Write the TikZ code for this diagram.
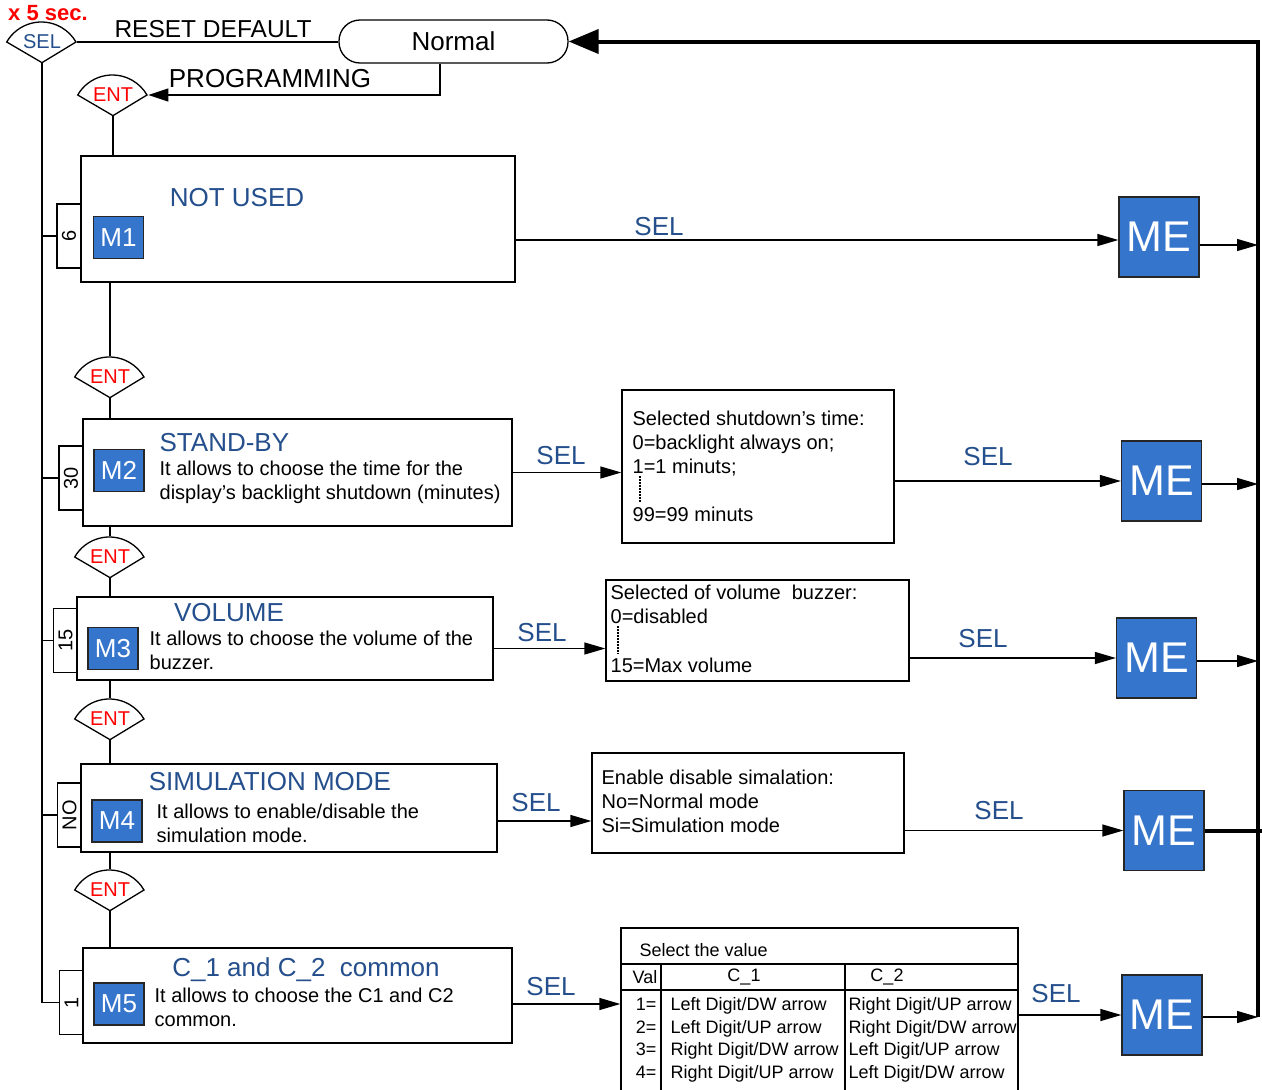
\documentclass[tikz,border=0pt]{standalone}
\usepackage{fontspec}
\setmainfont{Liberation Sans}
\usepackage{xcolor}
\usetikzlibrary{arrows.meta}

\definecolor{mblue}{RGB}{54,117,204}
\definecolor{tblue}{RGB}{36,79,140}

\begin{document}
\begin{tikzpicture}[
    x=1pt, y=-1pt,
    line width=1.3pt,
    menubox/.style={draw, inner sep=0pt},
    infobox/.style={draw, inner sep=0pt},
    mkey/.style={draw=black!85, fill=mblue, text=white, minimum width=50, minimum height=42, inner sep=0pt, font=\fontsize{26}{30}\selectfont},
    mexit/.style={draw=black!85, fill=mblue, text=white, minimum size=80, inner sep=0pt, font=\fontsize{43}{50}\selectfont},
    numbox/.style={draw, rotate=90, minimum width=64, minimum height=24, inner sep=0pt, font=\fontsize{20}{24}\selectfont},
    key/.style={minimum width=69.3, minimum height=40, inner sep=0pt, font=\fontsize{20}{24}\selectfont},
    ttl/.style={inner sep=0pt, text=tblue, text height=18.6pt, text depth=0pt, font=\fontsize{26}{30}\selectfont},
    txt/.style={inner sep=0pt, align=left, font=\fontsize{20}{24}\selectfont},
    cell/.style={inner sep=0pt, text height=12.9pt, text depth=0pt, font=\fontsize{18}{22}\selectfont},
    dots/.style={line width=1.2pt, dash pattern=on 1.5pt off 1.5pt},
    arrow/.style={-{Triangle[length=21pt,width=12pt]}},
    bus/.style={line width=4pt}
]
\useasboundingbox (0,0) rectangle (1262,1090);
\fill[white] (0,0) rectangle (1262,1090);

% Start: normal mode and the keys
\node[inner sep=0pt, text=red, text height=15.7pt, text depth=0pt, font=\bfseries\fontsize{22}{26}\selectfont] (hold) at (48,13) {x 5 sec.};
\node[key, text=tblue] (sel) at (42,42) {SEL};
\node[draw, rounded corners=21pt, minimum width=229, minimum height=43, inner sep=0pt, font=\fontsize{26}{30}\selectfont] (normal) at (453.5,41.5) {Normal};
\node[inner sep=0pt, text height=17.5pt, text depth=0pt, font=\fontsize{24.5}{29}\selectfont] (reset) at (213,29) {RESET DEFAULT};
\node[inner sep=0pt, text height=18.6pt, text depth=0pt, font=\fontsize{26}{30}\selectfont] (prog) at (270,78) {PROGRAMMING};
\node[key, text=red] (ent0) at (113,95) {ENT};
\node[key, text=red] (ent1) at (110,377) {ENT};
\node[key, text=red] (ent2) at (110,557) {ENT};
\node[key, text=red] (ent3) at (110,719) {ENT};
\node[key, text=red] (ent4) at (110,890) {ENT};

% Menu boxes
\node[menubox, minimum width=434, minimum height=126] (m1box) at (298,219) {};
\node[menubox, minimum width=429, minimum height=107] (m2box) at (297.5,472.5) {};
\node[menubox, minimum width=416, minimum height=83] (m3box) at (285,638.5) {};
\node[menubox, minimum width=416, minimum height=88] (m4box) at (289,808) {};
\node[menubox, minimum width=429, minimum height=95] (m5box) at (297.5,995.5) {};

\node[mkey] (m1) at (118.5,237.5) {M1};
\node[mkey] (m2) at (119,470.5) {M2};
\node[mkey] (m3) at (113,648.5) {M3};
\node[mkey] (m4) at (117,821) {M4};
\node[mkey] (m5) at (119,1004) {M5};

\node[numbox] (n1) at (69,236) {6};
\node[numbox] (n2) at (71,478) {30};
\node[numbox] (n3) at (65.5,640.5) {15};
\node[numbox] (n4) at (69.5,815) {NO};
\node[numbox] (n5) at (71.5,1002.5) {1};

\node[ttl] (t1) at (237,197) {NOT USED};
\node[ttl, anchor=west] (t2) at (159,442) {STAND-BY};
\node[txt, anchor=north west] (d2) at (159,460.5) {It allows to choose the time for the\\display’s backlight shutdown (minutes)};
\node[ttl] (t3) at (229,612) {VOLUME};
\node[txt, anchor=north west] (d3) at (149,630.5) {It allows to choose the volume of the\\buzzer.};
\node[ttl] (t4) at (270,781) {SIMULATION MODE};
\node[txt, anchor=north west] (d4) at (156,803.5) {It allows to enable/disable the\\simulation mode.};
\node[ttl] (t5) at (306,967) {C\_1 and C\_2\ \ common};
\node[txt, anchor=north west] (d5) at (154,987.5) {It allows to choose the C1 and C2\\common.};

% Value boxes
\node[infobox, minimum width=272, minimum height=153] (info2) at (758,466.5) {};
\node[txt, anchor=north west] (i2) at (632,410.5) {Selected shutdown’s time:\\0=backlight always on;\\1=1 minuts;\\[24pt]99=99 minuts};
\draw[dots] (640,476) -- (640,503);
\node[infobox, minimum width=303, minimum height=101] (info3) at (757.5,630.5) {};
\node[txt, anchor=north west] (i3) at (610,584.5) {Selected of volume\ \ buzzer:\\0=disabled\\[25pt]15=Max volume};
\draw[dots] (618,626) -- (618,654);
\node[infobox, minimum width=312, minimum height=100] (info4) at (748,803) {};
\node[txt, anchor=north west] (i4) at (601,769.5) {Enable disable simalation:\\No=Normal mode\\Si=Simulation mode};

% Table of the C_1 / C_2 values
\node[infobox, minimum width=397, minimum height=172] (tbl) at (819.5,1014) {};
\draw (621,964) -- (1018,964);
\draw (621,990) -- (1018,990);
\draw (661,964) -- (661,1100);
\draw (845,964) -- (845,1100);
\node[cell, anchor=west] (thead) at (639,950) {Select the value};
\node[cell] (tval) at (645,977) {Val};
\node[cell] (tc1) at (744,975) {C\_1};
\node[cell] (tc2) at (887,975) {C\_2};
\foreach \v/\ca/\cb [count=\i] in {1/{Left Digit/DW arrow}/{Right Digit/UP arrow},
    2/{Left Digit/UP arrow}/{Right Digit/DW arrow},
    3/{Right Digit/DW arrow}/{Left Digit/UP arrow},
    4/{Right Digit/UP arrow}/{Left Digit/DW arrow}} {
  \node[cell, anchor=east] (v\i) at (657,{1004+22.6*(\i-1)}) {\v=};
  \node[cell, anchor=west] (a\i) at (670,{1004+22.6*(\i-1)}) {\ca};
  \node[cell, anchor=west] (b\i) at (848,{1004+22.6*(\i-1)}) {\cb};
}

% Exit boxes
\node[mexit] (me1) at (1159,237) {ME};
\node[mexit] (me2) at (1161.5,481) {ME};
\node[mexit] (me3) at (1156.5,658) {ME};
\node[mexit] (me4) at (1164,830.5) {ME};
\node[mexit] (me5) at (1162,1015) {ME};
\coordinate (busB) at (1258,1017);

% Key outlines
\foreach \k in {sel,ent0,ent1,ent2,ent3,ent4}
  \draw (\k.south) -- (\k.west) arc[start angle=210, end angle=330, radius=40] -- cycle;

% Arrows
\draw (sel.east) -- (sel.east -| normal.west);
\draw[-{Triangle[length=20pt,width=13pt]}] ([xshift=-13.5pt]normal.south) |- (ent0.east);
\draw (sel.south) |- (n5.north);
\foreach \n in {n1,n2,n3,n4}
  \draw (\n.north) -- (\n.north -| sel.south);
\draw (ent0.south) -- (ent0.south |- m1box.north);
\foreach \a/\b/\c in {m1box/ent1/m2box, m2box/ent2/m3box, m3box/ent3/m4box, m4box/ent4/m5box} {
  \draw (\a.south -| \b.north) -- (\b.north);
  \draw (\b.south) -- (\b.south |- \c.north);
}

\draw[arrow] ([yshift=-3pt]m1box.east |- me1.west) -- ([yshift=-3pt]me1.west);
\draw[arrow] (m2box.east) -- (m2box.east -| info2.west);
\draw[arrow] (info2.east |- me2.west) -- (me2.west);
\draw[arrow] (m3.east -| m3box.east) -- (m3.east -| info3.west);
\draw[arrow] (info3.east |- me3.west) -- (me3.west);
\draw[arrow] (m4.east -| m4box.east) -- (m4.east -| info4.west);
\draw[arrow] (info4.east |- me4.west) -- (me4.west);
\draw[arrow] (m5.east -| m5box.east) -- (m5.east -| tbl.west);
\draw[arrow] (tbl.east |- me5.west) -- (me5.west);

\foreach \e/\s in {me1/-8, me2/-3, me3/-3, me5/-2}
  \draw[arrow] ([yshift=\s pt]\e.east) -- ([yshift=\s pt]\e.east -| busB);
\draw[bus] (me4.east) -- ([xshift=4pt]me4.east -| busB);
\draw[bus, -{Triangle[length=30pt,width=24pt]}] (busB) |- (normal.east);

% SEL labels
\node[ttl] (s1) at (659,226) {SEL};
\node[ttl] (s2) at (561,455) {SEL};
\node[ttl] (s2b) at (988,456) {SEL};
\node[ttl] (s3) at (542,632) {SEL};
\node[ttl] (s3b) at (983,638) {SEL};
\node[ttl] (s4) at (536,802) {SEL};
\node[ttl] (s4b) at (999,810) {SEL};
\node[ttl] (s5) at (551,986) {SEL};
\node[ttl] (s5b) at (1056,993) {SEL};

\end{tikzpicture}
\end{document}
